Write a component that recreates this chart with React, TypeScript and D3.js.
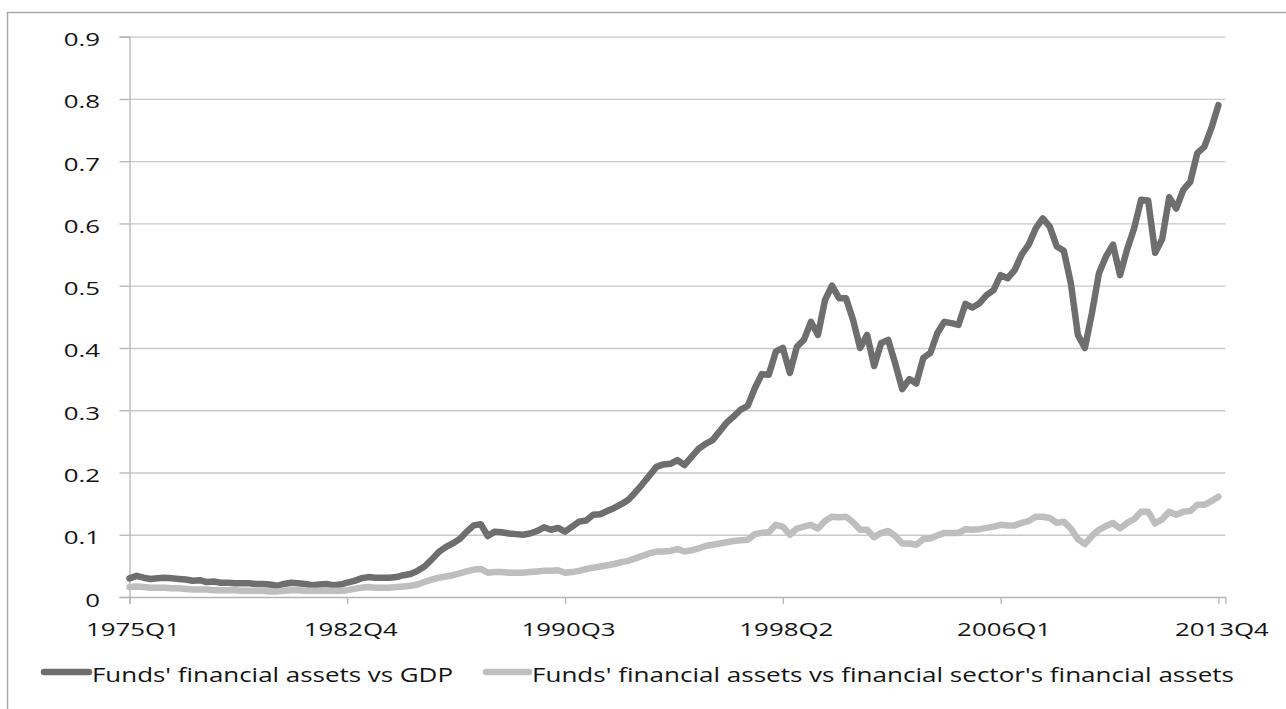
import { useEffect, useRef } from 'react';
import * as d3 from 'd3';

// quarterly categories 1975Q1 .. 2013Q4 (plus one empty slot at the end, like the source axis)
const quarters: string[] = [];
for (let yr = 1975; yr <= 2013; yr++) {
  for (let q = 1; q <= 4; q++) quarters.push(`${yr}Q${q}`);
}

const xTickLabels = ['1975Q1', '1982Q4', '1990Q3', '1998Q2', '2006Q1', '2013Q4'];
const yTicks = [0, 0.1, 0.2, 0.3, 0.4, 0.5, 0.6, 0.7, 0.8, 0.9];

const seriesNames = [
  "Funds' financial assets vs GDP",
  "Funds' financial assets vs financial sector's financial assets",
];

const fundsVsGdp = [
  0.030, 0.034, 0.031, 0.029, 0.030, 0.031, 0.030, 0.029, 0.028, 0.026,
  0.027, 0.024, 0.025, 0.023, 0.023, 0.022, 0.022, 0.022, 0.021, 0.021,
  0.020, 0.018, 0.021, 0.023, 0.022, 0.021, 0.019, 0.020, 0.021, 0.019,
  0.020, 0.023, 0.026, 0.030, 0.032, 0.031, 0.031, 0.031, 0.032, 0.035,
  0.037, 0.042, 0.049, 0.060, 0.072, 0.080, 0.086, 0.093, 0.105, 0.115,
  0.117, 0.098, 0.105, 0.104, 0.102, 0.101, 0.100, 0.102, 0.106, 0.112,
  0.108, 0.111, 0.105, 0.113, 0.121, 0.123, 0.132, 0.133, 0.138, 0.143,
  0.149, 0.156, 0.168, 0.181, 0.195, 0.209, 0.213, 0.214, 0.220, 0.212,
  0.225, 0.238, 0.246, 0.252, 0.266, 0.280, 0.290, 0.301, 0.307, 0.335,
  0.358, 0.357, 0.394, 0.400, 0.360, 0.402, 0.413, 0.442, 0.421, 0.477,
  0.500, 0.480, 0.480, 0.445, 0.400, 0.421, 0.371, 0.408, 0.413, 0.375,
  0.334, 0.350, 0.343, 0.384, 0.392, 0.424, 0.442, 0.440, 0.437, 0.471,
  0.465, 0.472, 0.485, 0.493, 0.517, 0.512, 0.525, 0.550, 0.566, 0.592,
  0.608, 0.595, 0.563, 0.556, 0.504, 0.421, 0.400, 0.456, 0.520, 0.547,
  0.566, 0.517, 0.558, 0.592, 0.638, 0.637, 0.553, 0.575, 0.642, 0.624,
  0.654, 0.667, 0.713, 0.723, 0.753, 0.790,
];

const fundsVsFinSector = [
  0.016, 0.017, 0.016, 0.015, 0.015, 0.015, 0.014, 0.014, 0.013, 0.012,
  0.012, 0.012, 0.011, 0.011, 0.011, 0.011, 0.010, 0.010, 0.010, 0.010,
  0.009, 0.009, 0.010, 0.011, 0.011, 0.010, 0.010, 0.010, 0.010, 0.010,
  0.010, 0.011, 0.013, 0.015, 0.016, 0.015, 0.015, 0.015, 0.016, 0.017,
  0.018, 0.020, 0.024, 0.028, 0.031, 0.033, 0.035, 0.038, 0.041, 0.044,
  0.045, 0.039, 0.040, 0.040, 0.039, 0.039, 0.039, 0.040, 0.041, 0.042,
  0.042, 0.043, 0.039, 0.040, 0.042, 0.045, 0.047, 0.049, 0.051, 0.053,
  0.056, 0.058, 0.062, 0.066, 0.070, 0.073, 0.073, 0.074, 0.077, 0.073,
  0.075, 0.078, 0.082, 0.084, 0.086, 0.088, 0.090, 0.091, 0.092, 0.101,
  0.103, 0.104, 0.116, 0.113, 0.100, 0.110, 0.113, 0.116, 0.110, 0.122,
  0.129, 0.128, 0.129, 0.120, 0.108, 0.108, 0.096, 0.103, 0.106, 0.098,
  0.086, 0.086, 0.084, 0.093, 0.094, 0.099, 0.103, 0.103, 0.103, 0.109,
  0.108, 0.109, 0.111, 0.113, 0.116, 0.115, 0.115, 0.119, 0.122, 0.129,
  0.129, 0.127, 0.119, 0.121, 0.110, 0.093, 0.085, 0.098, 0.108, 0.114,
  0.119, 0.110, 0.119, 0.125, 0.137, 0.137, 0.118, 0.125, 0.137, 0.132,
  0.137, 0.138, 0.148, 0.148, 0.154, 0.161,
];

const colors = ['#6e6e6e', '#bebebe'];

export default function App() {
  const svgRef = useRef<SVGSVGElement>(null);

  useEffect(() => {
    if (!svgRef.current) return;
    const svg = d3.select(svgRef.current);
    svg.selectAll('*').remove();

    const font = '"Open Sans", Lato, sans-serif';
    const ink = '#141414';

    const x = d3.scaleLinear().domain([0, quarters.length]).range([129.5, 1225.4]);
    const y = d3.scaleLinear().domain([0, 0.9]).range([597, 36.7]);

    // outer frame (cropped on the right and bottom)
    svg
      .append('rect')
      .attr('x', 7.5)
      .attr('y', 12.5)
      .attr('width', 1300)
      .attr('height', 720)
      .attr('fill', 'none')
      .attr('stroke', '#a9a9a9')
      .attr('stroke-width', 1.5);

    // the source text is drawn wide; work out the stretch from one x label
    const probe = svg
      .append('text')
      .attr('font-family', font)
      .attr('font-size', 19)
      .text('1975Q1');
    const natural = (probe.node() as SVGTextElement).getComputedTextLength() || 70;
    probe.remove();
    const stretch = 94 / natural;

    const stretchText = (sel: d3.Selection<SVGTextElement, any, any, any>) => {
      sel.each(function () {
        const t = this as SVGTextElement;
        const w = t.getComputedTextLength();
        t.setAttribute('textLength', String(w * stretch));
        t.setAttribute('lengthAdjust', 'spacingAndGlyphs');
      });
    };

    // gridlines
    const grid = svg
      .append('g')
      .attr('transform', `translate(${x(0)},0)`)
      .call(
        d3
          .axisLeft(y)
          .tickValues(yTicks.filter((d) => d > 0))
          .tickSize(-(x(quarters.length) - x(0)))
          .tickFormat(() => '')
      );
    grid.select('.domain').remove();
    grid.selectAll('line').attr('stroke', '#c8c8c8').attr('stroke-width', 1.3);

    // y axis
    const yAxis = svg
      .append('g')
      .attr('transform', `translate(${x(0)},0)`)
      .call(
        d3
          .axisLeft(y)
          .tickValues(yTicks)
          .tickSize(10)
          .tickPadding(30)
          .tickFormat((d) => (d === 0 ? '0' : d3.format('.1f')(d as number)))
      );
    yAxis.select('.domain').attr('stroke', '#b4b4b4').attr('stroke-width', 1.3);
    yAxis.selectAll('line').attr('stroke', '#b4b4b4').attr('stroke-width', 1.3);
    const yLabels = yAxis
      .selectAll<SVGTextElement, number>('text')
      .attr('font-family', font)
      .attr('font-size', 19)
      .attr('fill', ink)
      .attr('dy', null)
      .attr('x', 100 - x(0))
      .attr('y', 9)
      .attr('text-anchor', 'end');
    stretchText(yLabels);

    // x axis
    const tickIdx = xTickLabels.map((l) => quarters.indexOf(l));
    const xAxis = svg
      .append('g')
      .attr('transform', `translate(0,${y(0)})`)
      .call(
        d3
          .axisBottom(x)
          .tickValues(tickIdx)
          .tickSize(7)
          .tickFormat((i) => quarters[i as number])
      );
    xAxis.select('.domain').attr('stroke', '#b4b4b4').attr('stroke-width', 1.3);
    xAxis.selectAll('line').attr('stroke', '#b4b4b4').attr('stroke-width', 1.3);
    const xLabels = xAxis
      .selectAll<SVGTextElement, number>('text')
      .attr('font-family', font)
      .attr('font-size', 19)
      .attr('fill', ink)
      .attr('dy', null)
      .attr('x', 3)
      .attr('y', 39);
    stretchText(xLabels);

    // series
    const line = d3
      .line<number>()
      .x((_, i) => x(i))
      .y((d) => y(d));

    [fundsVsGdp, fundsVsFinSector].forEach((s, k) => {
      svg
        .append('path')
        .datum(s)
        .attr('d', line)
        .attr('fill', 'none')
        .attr('stroke', colors[k])
        .attr('stroke-width', 6.5)
        .attr('stroke-linejoin', 'round')
        .attr('stroke-linecap', 'round');
    });

    // legend
    const legendItems = [
      { x0: 44, x1: 89, tx: 92, w: 361 },
      { x0: 486, x1: 529, tx: 532, w: 702 },
    ];
    const lg = svg.append('g');
    legendItems.forEach((it, k) => {
      lg.append('line')
        .attr('x1', it.x0)
        .attr('x2', it.x1)
        .attr('y1', 672)
        .attr('y2', 672)
        .attr('stroke', colors[k])
        .attr('stroke-width', 6.5)
        .attr('stroke-linecap', 'round');
      lg.append('text')
        .attr('x', it.tx)
        .attr('y', 682)
        .attr('font-family', font)
        .attr('font-size', 19.5)
        .attr('fill', ink)
        .attr('textLength', it.w)
        .attr('lengthAdjust', 'spacingAndGlyphs')
        .text(seriesNames[k]);
    });
  }, []);

  return (
    <svg
      ref={svgRef}
      width={1286}
      height={709}
      viewBox="0 0 1286 709"
      style={{ position: 'absolute', left: 0, top: 0, background: '#fff' }}
    />
  );
}
